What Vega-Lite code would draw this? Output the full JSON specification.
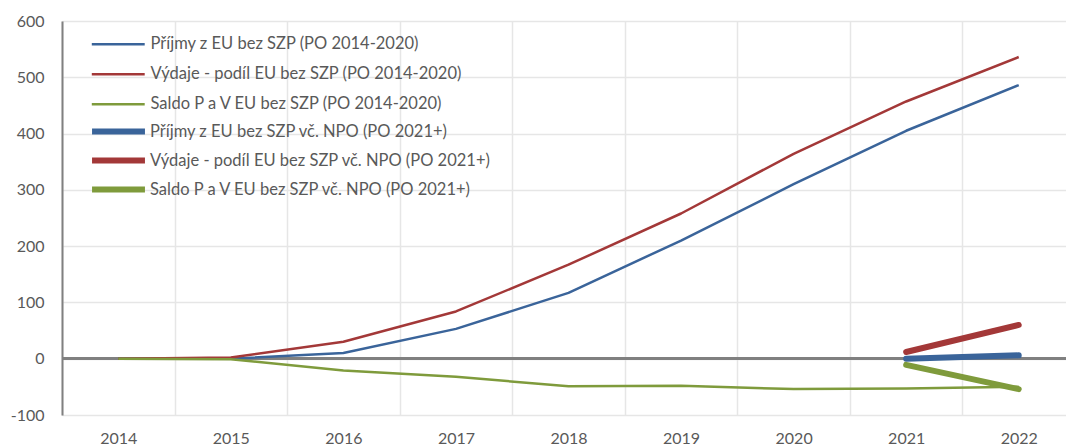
{
  "$schema": "https://vega.github.io/schema/vega-lite/v6.json",
  "width": 1004,
  "height": 394,
  "autosize": {"type": "none"},
  "padding": {"left": 62, "top": 21, "right": 0, "bottom": 30},
  "background": "white",
  "config": {
    "view": {"stroke": null},
    "font": "Lato"
  },
  "data": {
    "values": [
      {"year": 2014, "series": "Příjmy z EU bez SZP (PO 2014-2020)", "value": 0},
      {"year": 2015, "series": "Příjmy z EU bez SZP (PO 2014-2020)", "value": 0},
      {"year": 2016, "series": "Příjmy z EU bez SZP (PO 2014-2020)", "value": 10},
      {"year": 2017, "series": "Příjmy z EU bez SZP (PO 2014-2020)", "value": 53},
      {"year": 2018, "series": "Příjmy z EU bez SZP (PO 2014-2020)", "value": 117},
      {"year": 2019, "series": "Příjmy z EU bez SZP (PO 2014-2020)", "value": 210},
      {"year": 2020, "series": "Příjmy z EU bez SZP (PO 2014-2020)", "value": 310},
      {"year": 2021, "series": "Příjmy z EU bez SZP (PO 2014-2020)", "value": 405},
      {"year": 2022, "series": "Příjmy z EU bez SZP (PO 2014-2020)", "value": 486},
      {"year": 2014, "series": "Výdaje - podíl EU bez SZP (PO 2014-2020)", "value": 0},
      {"year": 2015, "series": "Výdaje - podíl EU bez SZP (PO 2014-2020)", "value": 2},
      {"year": 2016, "series": "Výdaje - podíl EU bez SZP (PO 2014-2020)", "value": 30},
      {"year": 2017, "series": "Výdaje - podíl EU bez SZP (PO 2014-2020)", "value": 84},
      {"year": 2018, "series": "Výdaje - podíl EU bez SZP (PO 2014-2020)", "value": 167},
      {"year": 2019, "series": "Výdaje - podíl EU bez SZP (PO 2014-2020)", "value": 258},
      {"year": 2020, "series": "Výdaje - podíl EU bez SZP (PO 2014-2020)", "value": 364},
      {"year": 2021, "series": "Výdaje - podíl EU bez SZP (PO 2014-2020)", "value": 457},
      {"year": 2022, "series": "Výdaje - podíl EU bez SZP (PO 2014-2020)", "value": 536},
      {"year": 2014, "series": "Saldo P a V EU bez SZP (PO 2014-2020)", "value": 0},
      {"year": 2015, "series": "Saldo P a V EU bez SZP (PO 2014-2020)", "value": -1},
      {"year": 2016, "series": "Saldo P a V EU bez SZP (PO 2014-2020)", "value": -21},
      {"year": 2017, "series": "Saldo P a V EU bez SZP (PO 2014-2020)", "value": -32},
      {"year": 2018, "series": "Saldo P a V EU bez SZP (PO 2014-2020)", "value": -49},
      {"year": 2019, "series": "Saldo P a V EU bez SZP (PO 2014-2020)", "value": -48},
      {"year": 2020, "series": "Saldo P a V EU bez SZP (PO 2014-2020)", "value": -54},
      {"year": 2021, "series": "Saldo P a V EU bez SZP (PO 2014-2020)", "value": -53},
      {"year": 2022, "series": "Saldo P a V EU bez SZP (PO 2014-2020)", "value": -50},
      {"year": 2021, "series": "Příjmy z EU bez SZP vč. NPO (PO 2021+)", "value": 0},
      {"year": 2022, "series": "Příjmy z EU bez SZP vč. NPO (PO 2021+)", "value": 6},
      {"year": 2021, "series": "Výdaje - podíl EU bez SZP vč. NPO (PO 2021+)", "value": 12},
      {"year": 2022, "series": "Výdaje - podíl EU bez SZP vč. NPO (PO 2021+)", "value": 60},
      {"year": 2021, "series": "Saldo P a V EU bez SZP vč. NPO (PO 2021+)", "value": -11},
      {"year": 2022, "series": "Saldo P a V EU bez SZP vč. NPO (PO 2021+)", "value": -54}
    ]
  },
  "layer": [
    {
      "mark": {"type": "rule", "color": "#808080", "strokeWidth": 2},
      "encoding": {"y": {"datum": 0, "type": "quantitative"}}
    },
    {
      "mark": {"type": "line", "strokeWidth": 2.5, "strokeJoin": "round"},
      "transform": [{"filter": "indexof(datum.series, '2014-2020') >= 0"}],
      "encoding": {
        "x": {
          "field": "year",
          "type": "ordinal",
          "scale": {"type": "band", "range": [0, 1013], "paddingInner": 0, "paddingOuter": 0},
          "axis": {
            "title": null,
            "orient": "bottom",
            "labelAngle": 0,
            "tickBand": "extent",
            "grid": true,
            "gridColor": "#E6E6E6",
            "gridWidth": 1.5,
            "ticks": false,
            "domain": false,
            "labelPadding": 15,
            "labelFontSize": 16,
            "labelColor": "#595959"
          }
        },
        "y": {
          "field": "value",
          "type": "quantitative",
          "scale": {"domain": [-100, 600], "nice": false},
          "axis": {
            "title": null,
            "values": [-100, 0, 100, 200, 300, 400, 500, 600],
            "labelExpr": "'' + datum.value",
            "grid": true,
            "gridColor": "#E6E6E6",
            "gridWidth": 1.5,
            "ticks": false,
            "domain": true,
            "domainColor": "#808080",
            "domainWidth": 2,
            "labelPadding": 18,
            "labelFontSize": 16,
            "labelColor": "#595959"
          }
        },
        "color": {
          "field": "series",
          "type": "nominal",
          "scale": {
            "domain": [
              "Příjmy z EU bez SZP (PO 2014-2020)",
              "Výdaje - podíl EU bez SZP (PO 2014-2020)",
              "Saldo P a V EU bez SZP (PO 2014-2020)"
            ],
            "range": ["#3A649A", "#A33838", "#7F9B3C"]
          },
          "legend": {
            "title": null,
            "orient": "none",
            "legendX": 48,
            "legendY": 15,
            "symbolType": "M-5,0H5",
            "symbolSize": 112,
            "symbolStrokeWidth": 2.5,
            "labelFontSize": 16.5,
            "labelColor": "#595959",
            "labelOffset": 24,
            "rowPadding": 13,
            "labelLimit": 500
          }
        }
      }
    },
    {
      "mark": {"type": "line", "strokeWidth": 6, "strokeCap": "round"},
      "transform": [{"filter": "indexof(datum.series, '2021+') >= 0"}],
      "encoding": {
        "x": {"field": "year", "type": "ordinal"},
        "y": {"field": "value", "type": "quantitative"},
        "stroke": {
          "field": "series",
          "type": "nominal",
          "scale": {
            "domain": [
              "Příjmy z EU bez SZP vč. NPO (PO 2021+)",
              "Výdaje - podíl EU bez SZP vč. NPO (PO 2021+)",
              "Saldo P a V EU bez SZP vč. NPO (PO 2021+)"
            ],
            "range": ["#3A649A", "#A33838", "#7F9B3C"]
          },
          "legend": {
            "title": null,
            "orient": "none",
            "legendX": 48,
            "legendY": 102,
            "symbolType": "M-5,0H5",
            "symbolSize": 112,
            "symbolStrokeWidth": 6,
            "labelFontSize": 16.5,
            "labelColor": "#595959",
            "labelOffset": 23,
            "rowPadding": 4,
            "labelLimit": 500
          }
        }
      }
    }
  ]
}
